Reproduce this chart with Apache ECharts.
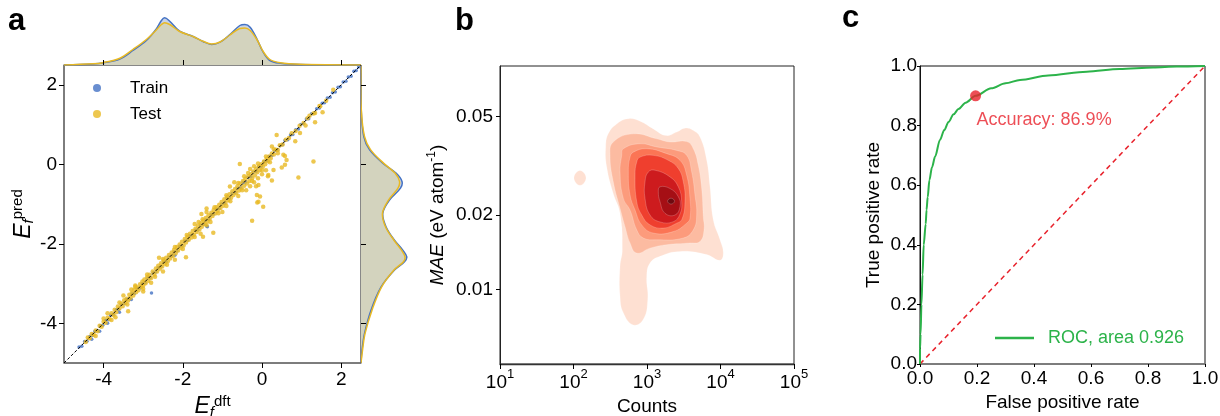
<!DOCTYPE html>
<html><head><meta charset="utf-8">
<script src="https://cdn.jsdelivr.net/npm/echarts@6/dist/echarts.min.js"></script>
<style>html,body{margin:0;padding:0;background:#fff}#c{width:1220px;height:416px}</style>
</head><body><div id="c"></div><script>
const FONT = "'Liberation Sans', Arial, sans-serif";

// ---------- Panel a data ----------
const aTicks = [-4, -2, 0, 2];
const trainPts = [[-4.62,-4.60],[-4.55,-4.58],[-4.48,-4.46],[-4.42,-4.45],[-4.35,-4.33],[-4.28,-4.31],[-4.22,-4.20],[-4.15,-4.18],[-4.08,-4.06],[-4.02,-4.05],[-3.95,-3.93],[-3.88,-3.91],[-3.82,-3.80],[-3.75,-3.78],[-3.68,-3.66],[-3.62,-3.65],[-3.55,-3.53],[-3.48,-3.51],[-3.42,-3.40],[-3.35,-3.38],[-3.28,-3.26],[-3.22,-3.25],[-3.15,-3.13],[-3.08,-3.11],[-3.02,-3.00],[-2.95,-2.98],[-2.88,-2.86],[-2.82,-2.85],[-2.75,-2.73],[-2.68,-2.71],[-2.62,-2.60],[-2.55,-2.58],[-2.48,-2.46],[-2.42,-2.45],[-2.35,-2.33],[-2.28,-2.31],[-2.22,-2.20],[-2.15,-2.18],[-2.08,-2.06],[-2.02,-2.05],[-1.95,-1.93],[-1.88,-1.91],[-1.82,-1.80],[-1.75,-1.78],[-1.68,-1.66],[-1.62,-1.65],[-1.55,-1.53],[-1.48,-1.51],[-1.42,-1.40],[-1.35,-1.38],[-1.28,-1.26],[-1.22,-1.25],[-1.15,-1.13],[-1.08,-1.11],[-1.02,-1.00],[-0.95,-0.98],[-0.88,-0.86],[-0.82,-0.85],[-0.75,-0.73],[-0.68,-0.71],[-0.62,-0.60],[-0.55,-0.58],[-0.48,-0.46],[-0.42,-0.45],[-0.35,-0.33],[-0.28,-0.31],[-0.22,-0.20],[-0.15,-0.18],[-0.08,-0.06],[-0.02,-0.05],[0.05,0.07],[0.12,0.09],[0.18,0.20],[0.25,0.22],[0.32,0.34],[0.38,0.35],[0.45,0.47],[0.52,0.49],[0.58,0.60],[0.65,0.62],[0.72,0.74],[0.78,0.75],[0.85,0.87],[0.92,0.89],[0.98,1.00],[1.05,1.02],[1.12,1.14],[1.18,1.15],[1.25,1.27],[1.32,1.29],[1.38,1.40],[1.45,1.42],[1.52,1.54],[1.58,1.55],[1.65,1.67],[1.72,1.69],[1.78,1.80],[1.85,1.82],[1.92,1.94],[1.98,1.95],[2.05,2.07],[2.12,2.09],[2.18,2.20],[2.25,2.22],[2.32,2.34],[2.38,2.36],[2.44,2.45],[-2.79,-3.24],[-1.40,-1.55],[-2.20,-2.29],[-1.38,-1.57],[-4.30,-4.40],[-4.10,-4.20],[-3.90,-4.00],[-3.60,-3.72],[-3.30,-3.40]];
const testPts = [[-4.45,-4.47],[-4.40,-4.36],[-4.35,-4.38],[-4.30,-4.27],[-4.25,-4.29],[-4.20,-4.18],[-4.15,-4.20],[-4.10,-4.06],[-4.05,-4.09],[-4.00,-3.96],[-3.95,-3.99],[-3.90,-3.86],[-3.85,-3.89],[-3.80,-3.75],[-3.75,-3.80],[-3.72,-3.66],[-3.68,-3.72],[-3.64,-3.58],[-3.60,-3.63],[-3.55,-3.50],[-3.52,-3.57],[-3.48,-3.42],[-3.45,-3.49],[-3.42,-3.38],[-3.38,-3.43],[-3.35,-3.28],[-3.32,-3.36],[-3.28,-3.23],[-3.25,-3.30],[-3.22,-3.15],[-3.18,-3.22],[-3.15,-3.10],[-3.12,-3.17],[-3.08,-3.02],[-3.05,-3.09],[-3.02,-2.95],[-3.00,-3.05],[-2.97,-2.90],[-2.94,-2.99],[-2.90,-2.84],[-2.87,-2.93],[-2.84,-2.78],[-2.80,-2.86],[-2.76,-2.70],[-2.72,-2.77],[-2.68,-2.62],[-2.65,-2.70],[-2.62,-2.55],[-2.58,-2.63],[-2.55,-2.49],[-2.52,-2.57],[-2.48,-2.42],[-2.45,-2.50],[-2.42,-2.35],[-2.38,-2.44],[-2.35,-2.28],[-2.32,-2.37],[-2.28,-2.22],[-2.25,-2.31],[-2.22,-2.15],[-2.18,-2.24],[-2.15,-2.08],[-2.12,-2.17],[-2.08,-2.02],[-2.05,-2.10],[-2.02,-1.95],[-1.98,-2.04],[-1.95,-1.88],[-1.92,-1.97],[-1.88,-1.82],[-1.85,-1.90],[-1.82,-1.75],[-1.78,-1.84],[-1.75,-1.68],[-1.72,-1.77],[-1.68,-1.62],[-1.65,-1.70],[-1.62,-1.55],[-1.58,-1.64],[-1.55,-1.48],[-1.52,-1.57],[-1.48,-1.42],[-1.45,-1.50],[-1.42,-1.35],[-1.38,-1.44],[-1.35,-1.28],[-1.32,-1.37],[-1.28,-1.22],[-1.25,-1.30],[-1.22,-1.15],[-1.18,-1.24],[-1.15,-1.08],[-1.12,-1.17],[-1.08,-1.02],[-1.05,-1.10],[-1.02,-0.95],[-0.98,-1.04],[-0.95,-0.88],[-0.92,-0.97],[-0.88,-0.82],[-0.85,-0.90],[-0.82,-0.75],[-0.78,-0.84],[-0.75,-0.68],[-0.72,-0.77],[-0.68,-0.62],[-0.65,-0.72],[-0.62,-0.55],[-0.58,-0.66],[-0.55,-0.48],[-0.52,-0.60],[-0.48,-0.42],[-0.45,-0.54],[-0.42,-0.36],[-0.38,-0.48],[-0.35,-0.30],[-0.32,-0.42],[-0.28,-0.25],[-0.25,-0.35],[-0.22,-0.18],[-0.18,-0.28],[-0.15,-0.12],[-0.12,-0.20],[-0.08,-0.05],[-0.05,-0.14],[-0.02,0.00],[0.02,-0.06],[0.05,0.07],[0.08,0.00],[0.12,0.14],[0.15,0.08],[0.18,0.20],[0.22,0.15],[0.25,0.27],[0.30,0.25],[0.35,0.37],[0.40,0.36],[0.45,0.48],[0.52,0.50],[0.60,0.62],[0.68,0.66],[0.75,0.78],[0.85,0.84],[0.95,0.97],[1.05,1.04],[1.15,1.16],[1.30,1.28],[1.45,1.47],[-0.30,-0.55],[-0.20,-0.45],[-0.10,-0.35],[0.00,-0.25],[0.10,-0.15],[-0.40,-0.65],[0.15,-0.30],[-0.15,-0.55],[-1.00,-1.20],[-0.90,-1.05],[-1.30,-1.45],[-1.55,-1.75],[-2.20,-2.40],[-2.50,-2.70],[-3.00,-3.20],[-3.20,-3.05],[-1.70,-1.50],[-2.60,-2.35],[-0.70,-0.45],[-1.40,-1.20],[-3.50,-3.30],[1.30,0.07],[0.92,-0.33],[0.25,-0.41],[-0.13,-0.77],[-0.09,-0.94],[0.03,-1.07],[-0.25,-1.42],[-0.56,0.01],[-1.53,-1.25],[-1.92,-2.34],[0.54,0.24],[0.58,-0.01],[1.53,1.31],[1.34,1.06],[0.96,0.79],[0.84,0.58],[0.37,0.74],[0.25,0.45],[0.58,0.21],[0.62,0.11],[0.50,-0.08],[-0.09,-0.52],[-0.05,-0.81],[-0.12,-0.96],[-1.23,-1.72],[-1.40,-1.11],[-1.49,-1.82],[-0.81,-0.56],[0.16,-0.27],[0.29,-0.14],[-3.38,-3.70],[1.80,1.88],[1.47,1.46],[1.34,1.29],[1.62,1.60],[1.20,1.22],[1.10,0.98],[-4.20,-4.32],[-4.00,-3.88],[-3.80,-3.92],[-3.60,-3.48],[-3.40,-3.53],[-3.20,-3.08],[-3.00,-3.13],[-2.90,-2.77],[-2.70,-2.83],[-2.50,-2.38],[-2.40,-2.53],[-2.20,-2.08],[-2.00,-2.13],[-1.90,-1.78],[-1.70,-1.83],[-1.50,-1.38],[-1.40,-1.53],[-1.20,-1.08],[-1.10,-1.23],[-0.90,-0.78],[-0.80,-0.93],[-0.60,-0.47],[-0.50,-0.65],[-0.35,-0.22],[-0.25,-0.42],[-0.10,0.02],[0.00,-0.15],[0.10,0.20],[0.20,0.05],[0.30,0.38],[0.40,0.28],[-0.45,-0.30],[-0.20,-0.05],[-0.60,-0.80],[-0.30,-0.12],[-1.60,-1.45],[-2.80,-2.98],[-3.30,-3.15],[-3.70,-3.85],[-3.90,-3.75]];
const identityLine = [[-5,-5],[2.5,2.5]];

const kdeTopX     = [-5.0,-4.27,-4.02,-3.59,-3.26,-2.92,-2.67,-2.54,-2.46,-2.33,-2.08,-1.74,-1.49,-1.27,-1.06,-0.81,-0.56,-0.43,-0.30,-0.13,0.03,0.20,0.46,0.96,2.5];
const kdeTopTrain = [0,0.010,0.020,0.060,0.145,0.245,0.360,0.445,0.472,0.438,0.338,0.285,0.235,0.205,0.228,0.305,0.395,0.405,0.378,0.262,0.128,0.045,0.018,0.005,0];
const kdeTopTest  = [0,0.012,0.023,0.068,0.155,0.255,0.350,0.405,0.423,0.405,0.335,0.285,0.237,0.210,0.230,0.300,0.365,0.370,0.345,0.255,0.135,0.055,0.022,0.007,0];

const kdeRightY     = [2.47,1.38,0.70,0.37,0.03,-0.22,-0.43,-0.60,-0.90,-1.23,-1.57,-1.91,-2.16,-2.33,-2.45,-2.66,-3.09,-3.67,-4.26,-4.68,-5.0];
const kdeRightTrain = [0,0.002,0.028,0.085,0.218,0.350,0.410,0.395,0.285,0.218,0.250,0.335,0.418,0.458,0.435,0.335,0.200,0.100,0.035,0.010,0];
const kdeRightTest  = [0,0.003,0.035,0.095,0.225,0.340,0.385,0.370,0.275,0.215,0.245,0.330,0.405,0.440,0.425,0.330,0.205,0.110,0.040,0.015,0];

// ---------- Panel b data: KDE contour levels, vertices as [log10(Counts), log10(MAE)] ----------
const bXTicks = [1, 2, 3, 4, 5];
const bYTicks = [0.01, 0.02, 0.05];
const contourPolys = [
  [[2.746,-1.310],[2.905,-1.320],[3.086,-1.351],[3.259,-1.378],[3.404,-1.364],[3.517,-1.348],[3.626,-1.357],[3.721,-1.384],[3.812,-1.478],[3.857,-1.585],[3.902,-1.719],[3.993,-1.799],[4.038,-1.853],[3.993,-1.882],[3.812,-1.859],[3.449,-1.846],[3.177,-1.866],[3.041,-1.893],[2.996,-1.947],[3.010,-2.040],[2.950,-2.120],[2.814,-2.143],[2.678,-2.094],[2.633,-2.027],[2.633,-1.906],[2.664,-1.839],[2.633,-1.692],[2.541,-1.612],[2.452,-1.505],[2.438,-1.424],[2.473,-1.371],[2.588,-1.331]],
  [[2.006,-1.549],[2.088,-1.519],[2.170,-1.549],[2.088,-1.579]],
  [[2.541,-1.404],[2.814,-1.371],[3.132,-1.391],[3.313,-1.404],[3.540,-1.402],[3.630,-1.431],[3.698,-1.498],[3.744,-1.592],[3.766,-1.706],[3.776,-1.759],[3.721,-1.806],[3.585,-1.812],[3.268,-1.819],[3.041,-1.833],[2.860,-1.853],[2.769,-1.812],[2.701,-1.746],[2.633,-1.672],[2.541,-1.565],[2.497,-1.458]],
  [[2.678,-1.431],[2.905,-1.411],[3.132,-1.424],[3.404,-1.438],[3.540,-1.458],[3.608,-1.525],[3.653,-1.618],[3.676,-1.699],[3.630,-1.759],[3.494,-1.792],[3.132,-1.799],[2.950,-1.792],[2.860,-1.759],[2.769,-1.679],[2.678,-1.632],[2.633,-1.525],[2.656,-1.458]],
  [[2.814,-1.445],[2.996,-1.431],[3.268,-1.451],[3.449,-1.478],[3.540,-1.538],[3.585,-1.632],[3.585,-1.712],[3.540,-1.732],[3.358,-1.766],[3.086,-1.772],[2.928,-1.739],[2.837,-1.679],[2.769,-1.618],[2.746,-1.525],[2.769,-1.465]],
  [[2.905,-1.465],[3.086,-1.458],[3.290,-1.478],[3.426,-1.511],[3.494,-1.565],[3.517,-1.645],[3.476,-1.716],[3.404,-1.732],[3.222,-1.752],[3.041,-1.739],[2.928,-1.699],[2.860,-1.645],[2.837,-1.538],[2.860,-1.485]],
  [[3.018,-1.525],[3.109,-1.518],[3.313,-1.545],[3.426,-1.585],[3.472,-1.645],[3.449,-1.695],[3.358,-1.726],[3.177,-1.727],[3.041,-1.699],[2.973,-1.632],[2.973,-1.565]],
  [[3.177,-1.585],[3.313,-1.592],[3.426,-1.625],[3.449,-1.665],[3.381,-1.699],[3.245,-1.692],[3.177,-1.645],[3.154,-1.605]],
  [[3.279,-1.643],[3.327,-1.631],[3.375,-1.643],[3.327,-1.655]]
];
const contourLevelOf = [0, 0, 1, 2, 3, 4, 5, 6, 7];

// ---------- Panel c data ----------
const rocFpr = [0,0.000,0.002,0.005,0.009,0.013,0.020,0.023,0.027,0.033,0.042,0.053,0.070,0.085,0.100,0.118,0.135,0.160,0.195,0.250,0.300,0.351,0.450,0.585,0.700,0.818,0.900,1.0];
const rocTpr = [0,0.050,0.100,0.200,0.300,0.400,0.470,0.517,0.560,0.617,0.660,0.696,0.752,0.785,0.812,0.838,0.856,0.877,0.900,0.925,0.942,0.953,0.968,0.981,0.990,0.995,0.998,1.0];
const accuracyPoint = [0.195, 0.90];
const chanceLine = [[0,0],[1,1]];

// ---------- styles ----------
const BLUE = '#4472c4', YELLOW = '#e8b923', GREEN = '#2cb34a', RED = '#e8222c';
const levelColors = ['#fee0d2','#fcbba1','#fc9b7c','#fb7555','#ef3f2e','#cd1b1e','#a50f15','#6e0a10'];
const tickStyle = { show: true, inside: false, length: 5, lineStyle: { color: '#000', width: 1 } };
const lblStyle = { color: '#000', fontSize: 19, fontFamily: FONT };
const nameStyleBase = { color: '#000', fontSize: 19, fontFamily: FONT };
const hidden = { show: false };

function axisCommon(extra) {
  return Object.assign({
    type: 'value', splitLine: hidden,
    axisLine: { show: true, onZero: false, lineStyle: { color: '#111', width: 1 } },
    axisTick: tickStyle, axisLabel: Object.assign({ margin: 7 }, lblStyle)
  }, extra);
}
function hiddenAxis(extra) {
  return Object.assign({ type: 'value', show: false, splitLine: hidden }, extra);
}
function curveRender(xs, ys, kind, style) {
  return function (params, api) {
    const pts = xs.map((x, i) => api.coord([x, ys[i]]));
    return { type: kind, shape: { points: pts, smooth: 0.35 }, style: style };
  };
}
function gridBox(l, t, w, h, framed, border) {
  const g = { left: l, top: t, width: w, height: h, outerBoundsMode: 'none', containLabel: false };
  if (framed) Object.assign(g, { show: true, borderColor: border, borderWidth: 1, backgroundColor: 'transparent' });
  return g;
}

const eRich = {
  e:   { fontSize: 23, fontStyle: 'italic', lineHeight: 26, fontFamily: FONT, color: '#000' },
  sub: { fontSize: 15, fontStyle: 'italic', lineHeight: 14, verticalAlign: 'bottom', fontFamily: FONT, color: '#000' },
  sup: { fontSize: 15, lineHeight: 14, verticalAlign: 'top', fontFamily: FONT, color: '#000' }
};

const option = {
  animation: false,
  backgroundColor: '#fff',
  textStyle: { fontFamily: FONT },
  grid: [
    gridBox(64, 65, 297, 298, true, '#111'),
    gridBox(64, 15, 297, 50, false),
    gridBox(361, 65, 50, 298, false),
    gridBox(500, 66, 294, 298, true, '#222'),
    gridBox(920, 66, 285, 298, true, '#111')
  ],
  xAxis: [
    axisCommon({ gridIndex: 0, min: -5, max: 2.5,
      axisLine: { show: true, onZero: false, lineStyle: { color: '#7a7a7a', width: 1.5 } },
      axisTick: Object.assign({}, tickStyle, { customValues: aTicks }),
      axisLabel: Object.assign({ margin: 7, customValues: aTicks }, lblStyle),
      name: '{e|E}{sub|f}{sup|dft}', nameLocation: 'middle', nameGap: 30,
      nameTextStyle: Object.assign({}, nameStyleBase, { rich: eRich }) }),
    axisCommon({ gridIndex: 0, min: -5, max: 2.5, position: 'top', z: 20,
      axisLine: { show: false, onZero: false }, axisLabel: { show: false },
      axisTick: Object.assign({}, tickStyle, { customValues: aTicks }) }),
    hiddenAxis({ gridIndex: 1, min: -5, max: 2.5 }),
    hiddenAxis({ gridIndex: 2, min: 0, max: 0.5 }),
    axisCommon({ gridIndex: 3, min: 1, max: 5, interval: 1,
      axisLine: { show: true, onZero: false, lineStyle: { color: '#333', width: 1.3 } },
      axisLabel: Object.assign({}, lblStyle, { margin: 4,
        formatter: v => '{n|10}{s|' + v + '}',
        rich: { n: { fontSize: 19, lineHeight: 30, fontFamily: FONT, color: '#000' },
                s: { fontSize: 13, lineHeight: 13, verticalAlign: 'top', fontFamily: FONT, color: '#000' } } }),
      name: 'Counts', nameLocation: 'middle', nameGap: 32, nameTextStyle: nameStyleBase }),
    axisCommon({ gridIndex: 4, min: 0, max: 1, interval: 0.2,
      axisLine: { show: true, onZero: false, lineStyle: { color: '#7a7a7a', width: 1.5 } },
      axisTick: Object.assign({}, tickStyle, { length: 3 }),
      axisLabel: Object.assign({}, lblStyle, { margin: 5, formatter: v => v.toFixed(1) }),
      name: 'False positive rate', nameLocation: 'middle', nameGap: 24, nameTextStyle: nameStyleBase })
  ],
  yAxis: [
    axisCommon({ gridIndex: 0, min: -5, max: 2.5,
      axisLine: { show: true, onZero: false, lineStyle: { color: '#7a7a7a', width: 1.5 } },
      axisTick: Object.assign({}, tickStyle, { customValues: aTicks }),
      axisLabel: Object.assign({ margin: 7, customValues: aTicks }, lblStyle),
      name: '{e|E}{sub|f}{sup|pred}', nameLocation: 'middle', nameGap: 24,
      nameTextStyle: Object.assign({}, nameStyleBase, { rich: eRich }) }),
    axisCommon({ gridIndex: 0, min: -5, max: 2.5, position: 'right', z: 20,
      axisLine: { show: false, onZero: false }, axisLabel: { show: false },
      axisTick: Object.assign({}, tickStyle, { customValues: aTicks }) }),
    hiddenAxis({ gridIndex: 1, min: 0, max: 0.5 }),
    hiddenAxis({ gridIndex: 2, min: -5, max: 2.5 }),
    axisCommon({ gridIndex: 3, min: Math.log10(0.005), max: Math.log10(0.08),
      axisLine: { show: true, onZero: false, lineStyle: { color: '#222', width: 1 } },
      axisTick: Object.assign({}, tickStyle, { length: 4, customValues: bYTicks.map(Math.log10) }),
      axisLabel: Object.assign({}, lblStyle, { margin: 7, customValues: bYTicks.map(Math.log10),
        formatter: v => Math.pow(10, v).toFixed(2) }),
      name: '{i|MAE} (eV atom{s|-1})', nameLocation: 'middle', nameGap: 50,
      nameTextStyle: Object.assign({}, nameStyleBase, { lineHeight: 24, rich: {
        i: { fontSize: 19, fontStyle: 'italic', lineHeight: 24, fontFamily: FONT, color: '#000' },
        s: { fontSize: 12, lineHeight: 12, verticalAlign: 'top', fontFamily: FONT, color: '#000' } } }) }),
    axisCommon({ gridIndex: 4, min: 0, max: 1, interval: 0.2,
      axisLine: { show: true, onZero: false, lineStyle: { color: '#111', width: 1 } },
      axisTick: Object.assign({}, tickStyle, { length: 3 }),
      axisLabel: Object.assign({}, lblStyle, { margin: 3, formatter: v => v.toFixed(1) }),
      name: 'True positive rate', nameLocation: 'middle', nameGap: 37, nameTextStyle: nameStyleBase })
  ],
  legend: [
    { data: ['Train', 'Test'], orient: 'vertical', left: 93, top: 78, padding: 0, itemGap: 6,
      icon: 'circle', itemWidth: 8, itemHeight: 8,
      textStyle: { fontSize: 17, lineHeight: 20, color: '#000', fontFamily: FONT, padding: [0, 0, 0, 24] } },
    { data: ['ROC, area 0.926'], left: 995, top: 327, padding: 0, icon: 'rect', itemWidth: 39, itemHeight: 2.5,
      textStyle: { fontSize: 18, lineHeight: 22, color: GREEN, fontFamily: FONT, padding: [0, 0, 0, 9] } }
  ],
  graphic: [
    { type: 'text', left: 8, top: 6, style: { text: 'a', font: 'bold 31px ' + FONT, fill: '#000' } },
    { type: 'text', left: 455, top: 6, style: { text: 'b', font: 'bold 31px ' + FONT, fill: '#000' } },
    { type: 'text', left: 842, top: 3, style: { text: 'c', font: 'bold 31px ' + FONT, fill: '#000' } }
  ],
  series: [
    // panel a scatter
    { name: 'Train', type: 'scatter', xAxisIndex: 0, yAxisIndex: 0, data: trainPts, symbolSize: 3.5,
      itemStyle: { color: BLUE }, z: 2, silent: true },
    { name: 'Test', type: 'scatter', xAxisIndex: 0, yAxisIndex: 0, data: testPts, symbolSize: 4.5,
      itemStyle: { color: YELLOW }, z: 3, silent: true },
    { type: 'line', xAxisIndex: 0, yAxisIndex: 0, data: identityLine, symbol: 'none', z: 4,
      lineStyle: { color: '#000', width: 1, type: [3, 2] }, silent: true },
    // top marginal
    { type: 'line', xAxisIndex: 2, yAxisIndex: 2, data: kdeTopX.map((x, i) => [x, kdeTopTrain[i]]),
      smooth: 0.35, symbol: 'none', lineStyle: { width: 0 }, areaStyle: { color: '#c9d3e6', opacity: 1 }, silent: true },
    { type: 'line', xAxisIndex: 2, yAxisIndex: 2, data: kdeTopX.map((x, i) => [x, kdeTopTest[i]]),
      smooth: 0.35, symbol: 'none', lineStyle: { width: 0 }, areaStyle: { color: '#d3d3be', opacity: 1 }, silent: true },
    { type: 'line', xAxisIndex: 2, yAxisIndex: 2, data: kdeTopX.map((x, i) => [x, kdeTopTrain[i]]),
      smooth: 0.35, symbol: 'none', lineStyle: { color: BLUE, width: 1.5 }, silent: true },
    { type: 'line', xAxisIndex: 2, yAxisIndex: 2, data: kdeTopX.map((x, i) => [x, kdeTopTest[i]]),
      smooth: 0.35, symbol: 'none', lineStyle: { color: YELLOW, width: 1.5 }, silent: true },
    // right marginal
    { type: 'custom', xAxisIndex: 3, yAxisIndex: 3, data: [[0, 0]], clip: true, silent: true,
      renderItem: curveRender(kdeRightTrain, kdeRightY, 'polygon', { fill: '#c9d3e6' }) },
    { type: 'custom', xAxisIndex: 3, yAxisIndex: 3, data: [[0, 0]], clip: true, silent: true,
      renderItem: curveRender(kdeRightTest, kdeRightY, 'polygon', { fill: '#d3d3be' }) },
    { type: 'custom', xAxisIndex: 3, yAxisIndex: 3, data: [[0, 0]], clip: true, silent: true,
      renderItem: curveRender(kdeRightTrain, kdeRightY, 'polyline', { fill: null, stroke: BLUE, lineWidth: 1.5 }) },
    { type: 'custom', xAxisIndex: 3, yAxisIndex: 3, data: [[0, 0]], clip: true, silent: true,
      renderItem: curveRender(kdeRightTest, kdeRightY, 'polyline', { fill: null, stroke: YELLOW, lineWidth: 1.5 }) },
    // panel b contours
    { type: 'custom', xAxisIndex: 4, yAxisIndex: 4, clip: true, silent: true,
      data: contourPolys.map((poly, i) => [poly[0][0], poly[0][1], i]),
      renderItem: function (params, api) {
        const idx = api.value(2);
        const pts = contourPolys[idx].map(p => api.coord(p));
        return { type: 'polygon', shape: { points: pts, smooth: 0.45 },
          style: { fill: levelColors[contourLevelOf[idx]], stroke: 'rgba(255,255,255,0.35)', lineWidth: 0.6 } };
      } },
    // panel c
    { type: 'line', xAxisIndex: 5, yAxisIndex: 5, data: chanceLine, symbol: 'none', silent: true,
      lineStyle: { color: RED, width: 1.5, type: [5, 4] } },
    { name: 'ROC, area 0.926', type: 'line', xAxisIndex: 5, yAxisIndex: 5, silent: true,
      data: rocFpr.map((x, i) => [x, rocTpr[i]]), symbol: 'none', smooth: 0.3, smoothMonotone: 'x',
      itemStyle: { color: GREEN }, lineStyle: { color: GREEN, width: 2 } },
    { type: 'scatter', xAxisIndex: 5, yAxisIndex: 5, data: [accuracyPoint], symbolSize: 11, z: 5, silent: true,
      itemStyle: { color: RED },
      label: { show: true, formatter: 'Accuracy: 86.9%', position: 'inside', align: 'left', verticalAlign: 'middle',
        offset: [1, 24], color: RED, fontSize: 18, fontFamily: FONT } }
  ]
};
const chart = echarts.init(document.getElementById('c'), null, { renderer: 'canvas' });
chart.setOption(option);
</script></body></html>
